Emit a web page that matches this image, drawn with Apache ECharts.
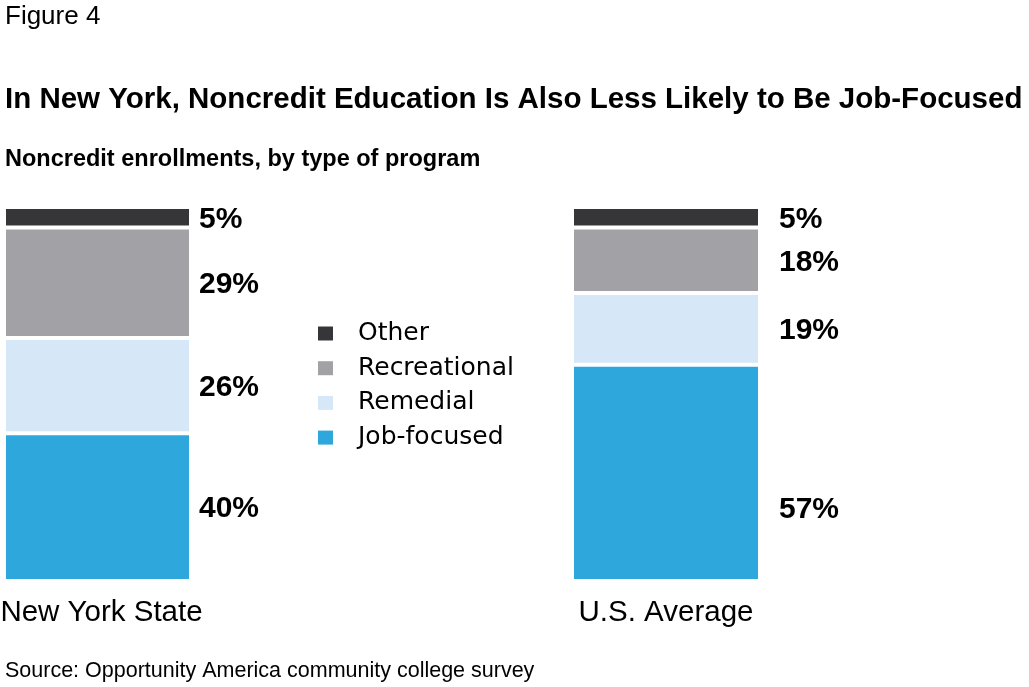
<!DOCTYPE html>
<html>
<head>
<meta charset="utf-8">
<script src="https://cdn.jsdelivr.net/npm/echarts@6/dist/echarts.min.js"></script>
<style>html,body{margin:0;padding:0;background:#fff}#c{width:1029px;height:687px}</style>
</head>
<body>
<div id="c"></div>
<script>
var categories = ['New York State', 'U.S. Average'];
var seriesNames = ['Job-focused', 'Remedial', 'Recreational', 'Other'];
// segment shares
var nyValues = [39.5, 25.5, 29.5, 5.5];
var usValues = [57.8, 19.2, 17.5, 5.5];
// printed value labels
var nyLabels = ['40%', '26%', '29%', '5%'];
var usLabels = ['57%', '19%', '18%', '5%'];
var colors = ['#2ea7dd', '#d6e7f7', '#a2a1a5', '#363538'];

var FONT = '"Liberation Sans", Arial, Helvetica, sans-serif';
var chart = echarts.init(document.getElementById('c'));

function sum(a){return a.reduce(function(s,v){return s+v;},0);}
var groups = [nyValues, usValues];
var labelGroups = [nyLabels, usLabels];
var gridPos = [{left:4, width:187}, {left:572, width:188}];
var labelDist = [8, 19];
var axisPad = [[0,0,0,8],[0,0,0,0]];

var grids = [], xAxes = [], yAxes = [], series = [];
groups.forEach(function(vals, g){
  grids.push({left: gridPos[g].left, width: gridPos[g].width, top: 207, height: 374,
    containLabel:false, outerBoundsMode:'none'});
  xAxes.push({type:'category', gridIndex:g, data:[categories[g]],
    axisLine:{show:false}, axisTick:{show:false},
    axisLabel:{fontFamily:FONT, fontSize:29.5, color:'#000', margin:17, padding:axisPad[g]}});
  yAxes.push({type:'value', gridIndex:g, min:0, max:sum(vals), show:false, splitLine:{show:false}});
  seriesNames.forEach(function(name, i){
    var item = {value: vals[i]};
    if (g === 1 && i === 0) item.label = {offset:[0, 37]};
    var txt = labelGroups[g][i];
    series.push({
      name:name, type:'bar', stack:'s'+g, xAxisIndex:g, yAxisIndex:g,
      barWidth:'100%', data:[item],
      itemStyle:{color:colors[i], borderColor:'#fff', borderWidth:2},
      label:{show:true, position:'right', distance:labelDist[g], offset:[0,2], formatter:function(){return txt;},
        fontFamily:FONT, fontSize:30, fontWeight:'bold', color:'#000'},
      emphasis:{disabled:true}, animation:false
    });
  });
});

chart.setOption({
  animation:false,
  grid: grids, xAxis: xAxes, yAxis: yAxes, series: series,
  legend:{
    orient:'vertical', left:318, top:321, padding:0,
    data:['Other','Recreational','Remedial','Job-focused'],
    icon:'rect', itemWidth:15, itemHeight:14, itemGap:9.7,
    itemStyle:{borderWidth:0},
    textStyle:{fontFamily:'"DejaVu Sans", sans-serif', fontSize:25, lineHeight:24, color:'#000', padding:[0,0,0,20]},
    selectedMode:false
  },
  graphic:[
    {type:'text', left:5, top:4, style:{text:'Figure 4', font:'26px '+FONT, fill:'#000'}},
    {type:'text', left:5, top:85, style:{text:'In New York, Noncredit Education Is Also Less Likely to Be Job-Focused', font:'bold 29.5px '+FONT, fill:'#000'}},
    {type:'text', left:5, top:148, style:{text:'Noncredit enrollments, by type of program', font:'bold 23.5px '+FONT, fill:'#000'}},
    {type:'text', left:5, top:660, style:{text:'Source: Opportunity America community college survey', font:'21.5px '+FONT, fill:'#000'}}
  ]
});
</script>
</body>
</html>
